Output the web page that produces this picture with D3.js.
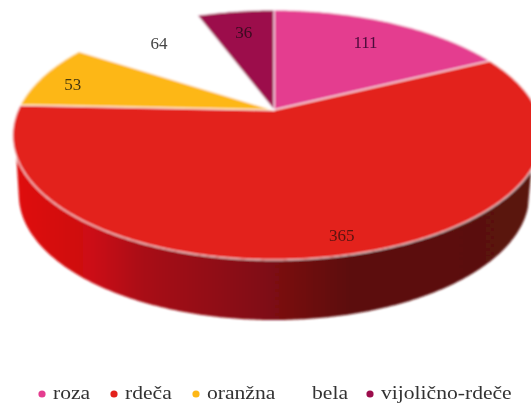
<!DOCTYPE html>
<html><head><meta charset="utf-8">
<script src="https://cdn.jsdelivr.net/npm/d3@7/dist/d3.min.js"></script>
<style>html,body{margin:0;padding:0;background:#fff}svg{display:block}text{font-family:"Liberation Serif",serif}</style>
</head><body><svg id="c" width="531" height="407"></svg>
<script>
const categories = ["roza","rdeča","oranžna","bela","vijolično-rdeče"];
const values = [111,365,53,64,36];
const colours = ["#e43d8f","#e3201d","#fdb713","#ffffff","#9c0f4c"];

const svg = d3.select("#c");
const defs = svg.append("defs");
defs.append("filter").attr("id","soft").attr("x","-5%").attr("y","-5%").attr("width","110%").attr("height","110%")
  .append("feGaussianBlur").attr("stdDeviation",0.8);
const txtBlur = defs.append("filter").attr("id","softText").attr("x","-10%").attr("y","-30%").attr("width","120%").attr("height","160%");
txtBlur.append("feGaussianBlur").attr("stdDeviation",0.6);
const grad = defs.append("linearGradient").attr("id","wall").attr("gradientUnits","userSpaceOnUse")
  .attr("x1",14).attr("x2",531).attr("y1",0).attr("y2",0);
[[0,"#e00f10"],[0.15,"#cc0d12"],[0.25,"#a91014"],[0.49,"#7f1012"],[0.65,"#5c1110"],[1,"#5a120f"]]
  .forEach(([o,c])=>grad.append("stop").attr("offset",o).attr("stop-color",c));

// perspective projection of the pie disc: angle (clockwise from top), radial fraction
const cx=274, cy=110, B=120, K=0.2;
const discA=t=>259.5+3.5*Math.sin(t);
const proj=(t,r=1,a=discA,dy=0)=>{
  const w=1+K*r*Math.cos(t);
  return [cx+a(t)*r*Math.sin(t)/w, cy-B*r*Math.cos(t)/w+dy];
};
const rad=d3.scaleLinear().domain([0,180]).range([0,Math.PI]);
const arcPts=(t0,t1,a=discA,dy=0)=>{
  const n=Math.max(2,Math.ceil(Math.abs(t1-t0)/0.01));
  return d3.range(n+1).map(i=>proj(t0+(t1-t0)*i/n,1,a,dy));
};
const line=d3.line();
const pie=d3.pie().sort(null).value(d=>d)(values);

const g=svg.append("g").attr("filter","url(#soft)");
// side wall of the red slice
const wallPts=arcPts(rad(117),rad(249)).concat(arcPts(rad(257),rad(107),()=>250,60));
g.append("path").attr("d",line(wallPts)+"Z").attr("fill","url(#wall)");

g.selectAll("path.slice").data(pie).join("path").attr("class","slice")
  .attr("d",d=>line([[cx,cy]].concat(arcPts(d.startAngle,d.endAngle)))+"Z")
  .attr("fill",(d,i)=>colours[i])
  .attr("stroke","#fff").attr("stroke-opacity",0.75).attr("stroke-width",1.4).attr("stroke-linejoin","round");

// data labels
const labelR=[0.75,0.89,0.85,0.8,0.75];
const labelTurn=[0,-2,-2.5,0,0].map(rad);
const labelFill=["#4a0a3a","#5a1410","#4a3a10","#444","#3a0a20"];
const mid=(d,i)=>proj((d.startAngle+d.endAngle)/2+labelTurn[i],labelR[i]);
svg.append("g").attr("filter","url(#softText)").selectAll("text").data(pie).join("text")
  .attr("x",(d,i)=>mid(d,i)[0])
  .attr("y",(d,i)=>mid(d,i)[1]+5.5)
  .attr("text-anchor","middle").attr("font-size",17)
  .attr("fill",(d,i)=>labelFill[i]).text(d=>d.value);

// legend
const legendX=[53,125,207,312,381];
const leg=svg.append("g").attr("filter","url(#softText)").selectAll("g").data(categories).join("g")
  .attr("transform",(d,i)=>`translate(${legendX[i]},394)`);
leg.append("circle").attr("cx",-11).attr("cy",0).attr("r",3.6).attr("fill",(d,i)=>colours[i]);
leg.append("text").attr("transform","translate(0,5) scale(1.2,1)").attr("font-size",18).attr("fill","#333").text(d=>d);
</script></body></html>
